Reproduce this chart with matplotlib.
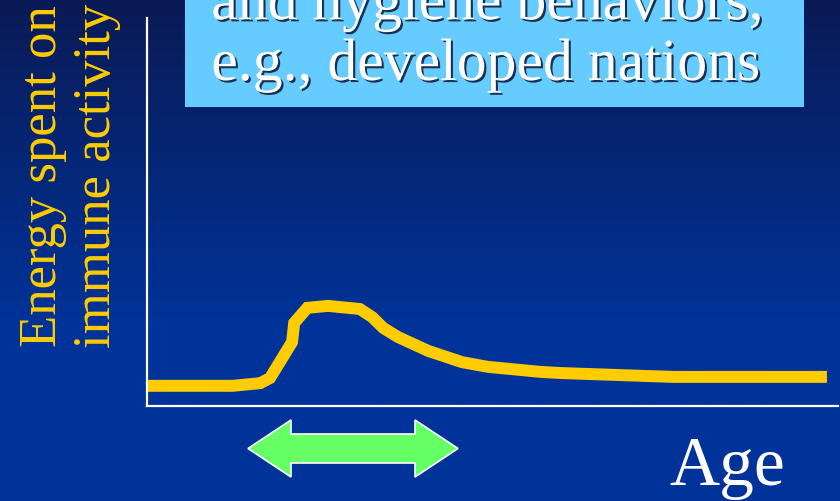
import numpy as np
import matplotlib
matplotlib.use('Agg')
from matplotlib import pyplot as plt
from matplotlib import patches as mpatches
from matplotlib import patheffects as pe

W, H = 840, 501

# immune energy curve over age (arbitrary units)
AGE = [0, 12.4, 16.4, 17.8, 21.0, 21.3, 23.2, 26.2, 30.8, 32.6, 34.2, 36.3,
       40.7, 45.6, 49.3, 56.9, 59.8, 76.1, 98.4]
ENERGY = [5.2, 5.2, 5.9, 7.2, 16.5, 21.4, 25.3, 25.8, 25.0, 22.9, 20.1, 17.8,
          14.2, 11.3, 10.1, 8.8, 8.5, 7.5, 7.5]

YLABEL = 'Energy spent on\nimmune activity'
XLABEL = 'Age'
BOX_TEXT = 'and hygiene behaviors,\ne.g., developed nations'

YELLOW = '#FFCC00'
SKY = '#66CCFF'
GREEN = '#66FF66'


def px(x, y):
    # pixel position (from top-left) -> figure fraction
    return x / W, 1 - y / H


fig = plt.figure(figsize=(W / 100, H / 100), dpi=100)

# background gradient, dark navy on top fading into royal blue
bg = fig.add_axes([0, 0, 1, 1], zorder=-10)
top = np.array(matplotlib.colors.to_rgb('#0a1a55'))
bot = np.array(matplotlib.colors.to_rgb('#003399'))
t = np.clip(np.linspace(0, 1, H) / 0.65, 0, 1)[:, None]
grad = top * (1 - t) + bot * t
bg.imshow(grad[:, None, :], aspect='auto', extent=[0, 1, 0, 1])
bg.axis('off')

ax = fig.add_axes([147 / W, 1 - 406 / H, (838 - 147) / W, (406 - 18) / H])
ax.patch.set_alpha(0)
ax.plot(AGE, ENERGY, color=YELLOW, lw=8.6, solid_capstyle='butt',
        solid_joinstyle='miter')
ax.set_xlim(0, 100)
ax.set_ylim(0, 100)
for s in ['top', 'right']:
    ax.spines[s].set_visible(False)
for s in ['left', 'bottom']:
    ax.spines[s].set_color('white')
    ax.spines[s].set_linewidth(1.6)
ax.set_xticks([])
ax.set_yticks([])

serif = 'Liberation Serif'

fig.text(*px(70, 176), YLABEL, rotation=90, ha='center', va='center',
         multialignment='center', color=YELLOW, fontsize=38,
         family=serif, linespacing=1.18)
fig.text(*px(669, 485), XLABEL, ha='left', va='baseline', color='white',
         fontsize=50, family=serif)

# light blue call-out box at top
x0, y0 = px(185, 107)
x1, y1 = px(804, 0)
fig.add_artist(mpatches.Rectangle((x0, y0), x1 - x0, y1 - y0,
                                  transform=fig.transFigure, color=SKY, lw=0))
shadow = [pe.withSimplePatchShadow(offset=(1.5, -1.5), shadow_rgbFace='#102040',
                                   alpha=0.9)]
fig.text(*px(488, 80), BOX_TEXT, ha='center', va='baseline',
         multialignment='left', color='white', fontsize=43, family=serif,
         linespacing=1.15, path_effects=shadow)

# green double arrow below the x axis
cx, cy = 353, 448.5
half_len, head_len = 105, 43
head_w, shaft_w = 28.5, 14.5
verts = [(cx - half_len, cy),
         (cx - half_len + head_len, cy - head_w),
         (cx - half_len + head_len, cy - shaft_w),
         (cx + half_len - head_len, cy - shaft_w),
         (cx + half_len - head_len, cy - head_w),
         (cx + half_len, cy),
         (cx + half_len - head_len, cy + head_w),
         (cx + half_len - head_len, cy + shaft_w),
         (cx - half_len + head_len, cy + shaft_w),
         (cx - half_len + head_len, cy + head_w)]
fig.add_artist(mpatches.Polygon([px(x, y) for x, y in verts], closed=True,
                                transform=fig.transFigure, facecolor=GREEN,
                                edgecolor='white', lw=1.2))

fig.savefig('out.png', dpi=100)
